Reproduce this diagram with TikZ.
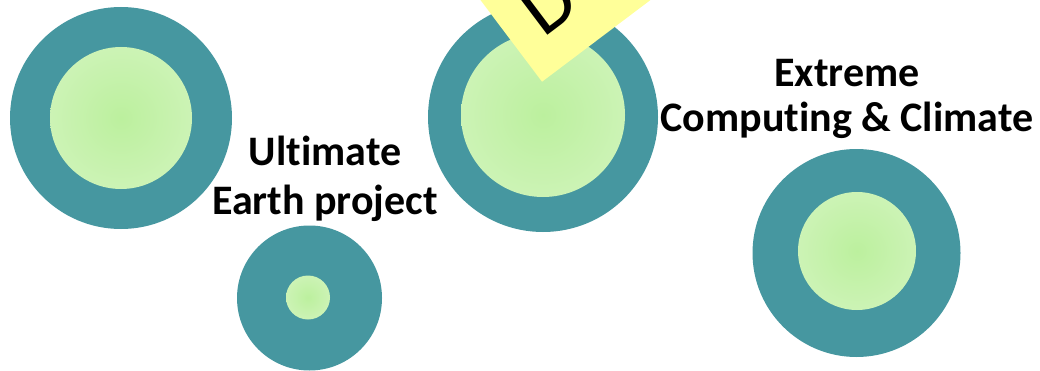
\documentclass[tikz,border=0pt]{standalone}
\usepackage{fontspec}
\setmainfont{Carlito}[Ligatures=NoCommon]
\newcommand{\nolig}{\kern0pt\relax}
\definecolor{tealring}{RGB}{70,151,160}
\definecolor{gcenter}{RGB}{188,240,158}
\definecolor{gedge}{RGB}{220,246,204}
\definecolor{noteyellow}{RGB}{255,255,153}
\pgfdeclareradialshading{glow}{\pgfpoint{0bp}{0bp}}{color(0bp)=(gcenter); color(50bp)=(gedge); color(100bp)=(gedge)}
\tikzset{
  ring/.style={circle, fill=tealring, inner sep=0pt, draw=none},
  core/.style={circle, shading=glow, inner sep=0pt, draw=none},
  biglabel/.style={align=center, inner sep=0pt, anchor=base, text=black},
  notebox/.style={fill=noteyellow, draw=none, inner sep=0pt, anchor=south west, rotate=37},
  notetext/.style={inner sep=0pt, anchor=base west, rotate=37, font=\fontsize{80pt}{90pt}\selectfont}
}
\begin{document}
\begin{tikzpicture}[x=1pt,y=1pt]
\useasboundingbox (0,0) rectangle (1040,370);
\clip (0,0) rectangle (1040,370);
% circle A
\node[ring, minimum size=222pt] (ra) at (121,252) {};
\node[core, minimum size=142pt] (ca) at (121,252) {};
% circle B
\node[ring, minimum size=230pt] (rb) at (543,253) {};
\node[core, minimum size=164pt] (cb) at (543,255) {};
% circle C
\node[ring, minimum size=145pt] (rc) at (309.5,72) {};
\node[core, minimum size=44pt] (cc) at (308,72.5) {};
% circle D
\node[ring, minimum size=208pt] (rd) at (856.5,117) {};
\node[core, minimum size=118pt] (cd) at (857,119) {};
% labels (base anchor = baseline of the last line)
\node[biglabel, font=\fontsize{42pt}{49pt}\selectfont\bfseries] (lu) at (325,156) {Ult\nolig imate\\Earth project};
\node[biglabel, font=\fontsize{42pt}{45pt}\selectfont\bfseries] (le) at (847,238) {Extreme\\Comput\nolig ing \& Climate};
% sticky note
\node[notebox, minimum size=240pt] (note) at (542,288) {};
\begin{scope}[shift={(542,288)}, rotate=37]
\node[notetext] (nt) at (27,34) {Do};
\end{scope}
\end{tikzpicture}
\end{document}
